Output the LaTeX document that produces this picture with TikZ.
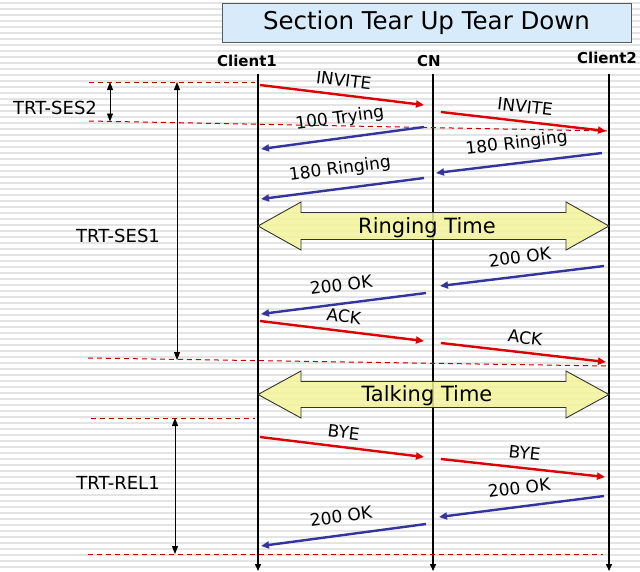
\documentclass[tikz,border=0pt]{standalone}
\usepackage{fontspec}
\setmainfont{DejaVu Sans}
\usetikzlibrary{arrows.meta}
\definecolor{msgred}{HTML}{DD0000}
\definecolor{msgblue}{HTML}{34349E}
\definecolor{dashred}{HTML}{C00000}
\definecolor{stripe}{HTML}{E4E4E4}
\definecolor{titlefill}{HTML}{D8EBFA}
\definecolor{blockfill}{HTML}{F4F49A}
\tikzset{
  lifeline/.style={line width=1.5pt, black, -{Triangle[length=7pt,width=6pt]}},
  redmsg/.style={line width=2.4pt, msgred, -{Triangle[length=8pt,width=7pt]}, shorten >=0pt},
  bluemsg/.style={line width=2.4pt, msgblue, -{Triangle[length=8pt,width=7pt]}},
  msglabel/.style={font=\fontsize{17}{20}\selectfont, text=black, sloped, inner sep=3pt, text height=12.5pt, text depth=3.5pt},
  redlabel/.style={msglabel, above=1pt},
  bluelabel/.style={msglabel, above=5pt},
  guide/.style={dashred, line width=1pt, dash pattern=on 5pt off 4pt},
  span/.style={black, line width=0.9pt, {Triangle[length=8pt,width=6pt]}-{Triangle[length=8pt,width=6pt]}},
  sidelabel/.style={font=\fontsize{18}{20}\selectfont, inner sep=0pt},
  partlabel/.style={font=\bfseries\fontsize{15}{18}\selectfont, inner sep=0pt},
  blockarrow/.style={draw=black!80, line width=0.9pt, fill=blockfill, fill opacity=0.85},
  blocktext/.style={font=\fontsize{21}{24}\selectfont, inner sep=0pt}
}
\begin{document}
\begin{tikzpicture}[x=1pt,y=-1pt]
\useasboundingbox (0,0) rectangle (640,571);
\fill[white] (0,0) rectangle (640,571);
\foreach \yy in {3,9,...,571} {\draw[stripe, line width=2pt] (0,\yy) -- (640,\yy);}
% title
\node[draw=black!65, line width=1pt, fill=titlefill, minimum width=409pt, minimum height=39pt, inner sep=0pt, font=\fontsize{24.5}{28}\selectfont] (title) at (426.5,22.5) {Section Tear Up Tear Down};
% participants
\node[partlabel] (c1) at (247,61) {Client1};
\node[partlabel] (cn) at (429,61) {CN};
\node[partlabel] (c2) at (607,58) {Client2};
\coordinate (c1top) at (258,74); \coordinate (c1bot) at (258,571);
\coordinate (cntop) at (433,74); \coordinate (cnbot) at (433,571);
\coordinate (c2top) at (609,74); \coordinate (c2bot) at (609,571);
\draw[lifeline] (c1top) -- (c1bot);
\draw[lifeline] (cntop) -- (cnbot);
\draw[lifeline] (c2top) -- (c2bot);
% guide lines
\coordinate (g1a) at (89,82);  \coordinate (g1b) at (255,82);
\coordinate (g2a) at (89,121); \coordinate (g2b) at (608,131);
\coordinate (g3a) at (88,358); \coordinate (g3b) at (608,366);
\coordinate (g4a) at (91,418); \coordinate (g4b) at (255,418);
\coordinate (g5a) at (88,554); \coordinate (g5b) at (603,554);
\draw[guide] (g1a) -- (g1b);
\draw[guide] (g2a) -- (g2b);
\draw[guide] (g3a) -- (g3b);
\draw[guide] (g4a) -- (g4b);
\draw[guide] (g5a) -- (g5b);
% spans
\coordinate (s2a) at (110,82);  \coordinate (s2b) at (110,121.5);
\coordinate (s1a) at (177,82);  \coordinate (s1b) at (177,360);
\coordinate (r1a) at (175,418); \coordinate (r1b) at (175,554);
\draw[span] (s2a) -- (s2b);
\draw[span] (s1a) -- (s1b);
\draw[span] (r1a) -- (r1b);
\node[sidelabel] (ses2) at (55,108) {TRT-SES2};
\node[sidelabel] (ses1) at (118,236) {TRT-SES1};
\node[sidelabel] (rel1) at (118,483) {TRT-REL1};
% block arrows
\path[blockarrow] (258,226) -- (301,202) -- (301,212.5) -- (566,212.5) -- (566,202) -- (609,226) -- (566,250) -- (566,239.5) -- (301,239.5) -- (301,250) -- cycle;
\node[blocktext] (ringing) at (427,228) {Ringing Time};
\path[blockarrow] (258,394.5) -- (301,371) -- (301,381.5) -- (566,381.5) -- (566,371) -- (609,394.5) -- (566,418) -- (566,407.5) -- (301,407.5) -- (301,418) -- cycle;
\node[blocktext] (talking) at (427,396) {Talking Time};
% messages
\coordinate (m1a) at (260,85);  \coordinate (m1b) at (424,105);
\coordinate (m2a) at (441,112); \coordinate (m2b) at (606,131);
\coordinate (m3a) at (424,127); \coordinate (m3b) at (261,149);
\coordinate (m4a) at (602,153); \coordinate (m4b) at (436,173);
\coordinate (m5a) at (424,178); \coordinate (m5b) at (261,199);
\coordinate (m6a) at (604,266); \coordinate (m6b) at (440,286);
\coordinate (m7a) at (426,293); \coordinate (m7b) at (261,314);
\coordinate (m8a) at (260,321); \coordinate (m8b) at (424,341);
\coordinate (m9a) at (441,343); \coordinate (m9b) at (606,362);
\coordinate (m10a) at (260,437); \coordinate (m10b) at (424,457);
\coordinate (m11a) at (441,459); \coordinate (m11b) at (605,477);
\coordinate (m12a) at (604,496); \coordinate (m12b) at (439,517);
\coordinate (m13a) at (426,524); \coordinate (m13b) at (261,546);
\draw[redmsg] (m1a) -- node[redlabel] (l1) {INVITE} (m1b);
\draw[redmsg] (m2a) -- node[redlabel] (l2) {INVITE} (m2b);
\draw[bluemsg] (m3a) -- node[bluelabel, above=2pt] (l3) {100 Trying} (m3b);
\draw[bluemsg] (m4a) -- node[bluelabel, above=2pt] (l4) {180 Ringing} (m4b);
\draw[bluemsg] (m5a) -- node[bluelabel, above=2pt] (l5) {180 Ringing} (m5b);
\draw[bluemsg] (m6a) -- node[bluelabel] (l6) {200 OK} (m6b);
\draw[bluemsg] (m7a) -- node[bluelabel] (l7) {200 OK} (m7b);
\draw[redmsg] (m8a) -- node[redlabel] (l8) {ACK} (m8b);
\draw[redmsg] (m9a) -- node[redlabel] (l9) {ACK} (m9b);
\draw[redmsg] (m10a) -- node[redlabel] (l10) {BYE} (m10b);
\draw[redmsg] (m11a) -- node[redlabel] (l11) {BYE} (m11b);
\draw[bluemsg] (m12a) -- node[bluelabel] (l12) {200 OK} (m12b);
\draw[bluemsg] (m13a) -- node[bluelabel] (l13) {200 OK} (m13b);
\end{tikzpicture}
\end{document}
